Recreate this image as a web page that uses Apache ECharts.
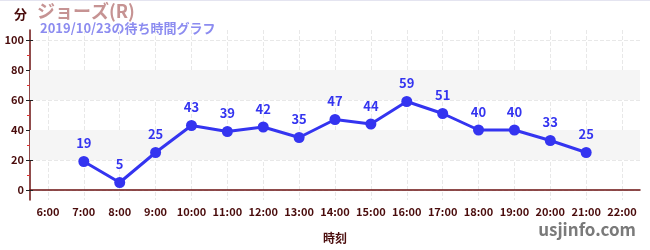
<!DOCTYPE html>
<html><head><meta charset="utf-8">
<script src="https://cdn.jsdelivr.net/npm/echarts@6/dist/echarts.min.js"></script>
<style>html,body{margin:0;padding:0;background:#fff}#c{width:650px;height:250px}</style>
</head><body><div id="c"></div>
<script>
const categories = ['6:00','7:00','8:00','9:00','10:00','11:00','12:00','13:00','14:00','15:00','16:00','17:00','18:00','19:00','20:00','21:00','22:00'];
const waitTimes = [null,19,5,25,43,39,42,35,47,44,59,51,40,40,33,25,null];
const yTicks = [0,20,40,60,80,100];
const yMinorTicks = [10,30,50,70,90];
const bands = [[20,40],[60,80]];
const titleText = 'ジョーズ(R)';
const subText = '2019/10/23の待ち時間グラフ';
const unitText = '分';
const xName = '時刻';
const credit = 'usjinfo.com';

const FONT = '"Noto Sans CJK JP","Noto Sans",sans-serif';
const chart = echarts.init(document.getElementById('c'));
chart.setOption({
  animation:false,
  textStyle:{fontFamily:FONT},
  grid:{left:30,right:10,top:30,bottom:50,containLabel:false},
  graphic:[
    {type:'line',shape:{x1:0,y1:0.5,x2:650,y2:0.5},style:{stroke:'#e4e4f0',lineWidth:1}},
    {type:'text',left:14,top:8,style:{text:unitText,font:'bold 13px '+FONT,fill:'#4a0c0c'}},
    {type:'text',left:37,top:2,style:{text:titleText,font:'bold 18px '+FONT,fill:'#c69393'}},
    {type:'text',left:40,top:22,style:{text:subText,font:'bold 13px '+FONT,fill:'#8c8cf0'}},
    {type:'text',right:14,top:221,style:{text:credit,font:'bold 17px '+FONT,fill:'#7a7a7a'}}
  ],
  xAxis:{
    type:'category',data:categories,boundaryGap:true,
    name:xName,nameLocation:'middle',nameGap:32,
    nameTextStyle:{color:'#4a0c0c',fontWeight:'bold',fontSize:12,fontFamily:FONT},
    axisLine:{lineStyle:{color:'#6b1010',width:1.5}},
    axisTick:{alignWithLabel:true,length:4,lineStyle:{color:'#333'}},
    axisLabel:{color:'#4a0c0c',fontWeight:'bold',fontSize:11,fontFamily:FONT,margin:6,interval:0},
    splitLine:{show:true,alignWithLabel:true,lineStyle:{color:'#e8e8e8',type:'dashed'}}
  },
  yAxis:[{
    type:'value',min:-20/3,max:320/3,interval:20,position:'left',
    axisLine:{show:true,lineStyle:{color:'#6b1010',width:1.5}},
    axisTick:{show:true,customValues:yTicks,length:4,lineStyle:{color:'#222'}},
    axisLabel:{customValues:yTicks,color:'#4a0c0c',fontWeight:'bold',fontSize:11,fontFamily:FONT,margin:6},
    splitLine:{show:true,lineStyle:{color:'#e8e8e8',type:'dashed'}}
  },{
    type:'value',min:-20/3,max:320/3,position:'left',offset:0,
    axisLine:{show:false},
    axisTick:{show:true,customValues:yMinorTicks,length:3,lineStyle:{color:'#e03030'}},
    axisLabel:{show:false,customValues:yMinorTicks},
    splitLine:{show:false}
  },{
    type:'value',min:-20/3,max:320/3,position:'left',offset:0,
    axisLine:{show:false},
    axisTick:{show:true,inside:true,customValues:yTicks,length:3,lineStyle:{color:'#222'}},
    axisLabel:{show:false,customValues:yTicks},
    splitLine:{show:false}
  }],
  series:[{
    type:'line',data:waitTimes,connectNulls:false,
    symbol:'circle',symbolSize:11,
    lineStyle:{color:'#3434f0',width:3},
    itemStyle:{color:'#3434f0'},
    label:{show:true,position:'top',distance:6,color:'#3434f0',fontWeight:'bold',fontSize:13,fontFamily:FONT},
    markArea:{silent:true,itemStyle:{color:'#f5f5f5'},data:bands.map(b=>[{yAxis:b[0]},{yAxis:b[1]}])},
    z:3
  }]
});
</script></body></html>
